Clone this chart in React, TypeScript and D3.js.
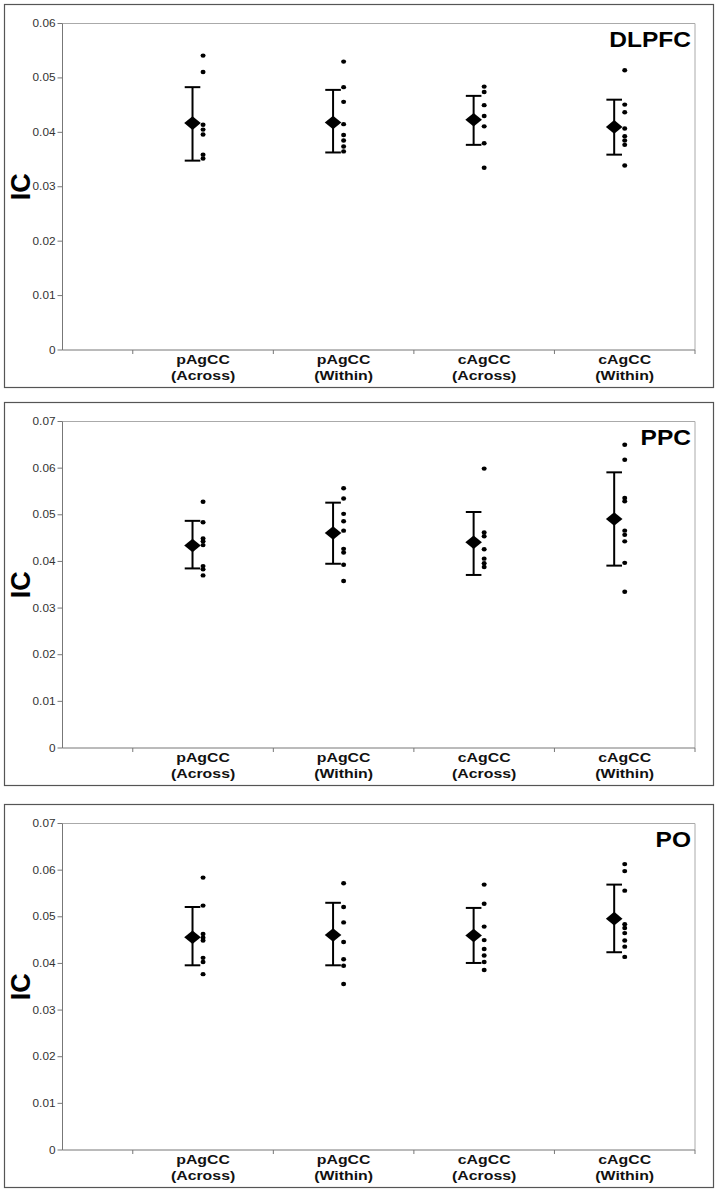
import React from 'react';
import * as d3 from 'd3';

// category labels (two lines each)
const categories = [
  ['pAgCC', '(Across)'],
  ['pAgCC', '(Within)'],
  ['cAgCC', '(Across)'],
  ['cAgCC', '(Within)'],
];

const regions = ['DLPFC', 'PPC', 'PO'];

const dlpfcTicks = [0, 0.01, 0.02, 0.03, 0.04, 0.05, 0.06];
const ppcTicks = [0, 0.01, 0.02, 0.03, 0.04, 0.05, 0.06, 0.07];
const poTicks = [0, 0.01, 0.02, 0.03, 0.04, 0.05, 0.06, 0.07];

const dlpfcMean = [0.0417, 0.0418, 0.0423, 0.041];
const dlpfcHigh = [0.0483, 0.0478, 0.0467, 0.046];
const dlpfcLow = [0.0348, 0.0363, 0.0377, 0.0359];
const dlpfcPoints = [
  [0.0541, 0.0511, 0.0414, 0.0405, 0.0396, 0.0359, 0.0352],
  [0.053, 0.0483, 0.0456, 0.0415, 0.0395, 0.0385, 0.0374, 0.0365],
  [0.0484, 0.0474, 0.045, 0.043, 0.0411, 0.038, 0.0335],
  [0.0514, 0.0451, 0.0437, 0.0407, 0.0393, 0.0385, 0.0377, 0.0339],
];

const ppcMean = [0.0434, 0.0461, 0.0441, 0.0491];
const ppcHigh = [0.0487, 0.0526, 0.0506, 0.0591];
const ppcLow = [0.0385, 0.0395, 0.0371, 0.0391];
const ppcPoints = [
  [0.0528, 0.0484, 0.0449, 0.0443, 0.0435, 0.039, 0.0383, 0.037],
  [0.0557, 0.0535, 0.0502, 0.0486, 0.0466, 0.0427, 0.0419, 0.0393, 0.0358],
  [0.0599, 0.0462, 0.0454, 0.0426, 0.0406, 0.0396, 0.0388],
  [0.065, 0.0618, 0.0536, 0.0529, 0.0466, 0.0457, 0.0443, 0.0397, 0.0335],
];

const poMean = [0.0456, 0.0461, 0.046, 0.0496];
const poHigh = [0.0521, 0.053, 0.0519, 0.0569];
const poLow = [0.0396, 0.0396, 0.0401, 0.0424];
const poPoints = [
  [0.0584, 0.0524, 0.0463, 0.0455, 0.0449, 0.0412, 0.0403, 0.0377],
  [0.0572, 0.0521, 0.0488, 0.0446, 0.0409, 0.0395, 0.0356],
  [0.0569, 0.0528, 0.0479, 0.045, 0.0431, 0.0417, 0.0403, 0.0386],
  [0.0613, 0.0598, 0.0556, 0.0484, 0.0476, 0.0465, 0.0449, 0.0436, 0.0414],
];

const panels = [
  { title: regions[0], ticks: dlpfcTicks, mean: dlpfcMean, high: dlpfcHigh, low: dlpfcLow, points: dlpfcPoints, top: 4 },
  { title: regions[1], ticks: ppcTicks, mean: ppcMean, high: ppcHigh, low: ppcLow, points: ppcPoints, top: 402 },
  { title: regions[2], ticks: poTicks, mean: poMean, high: poHigh, low: poLow, points: poPoints, top: 804 },
];

const font = '"Liberation Sans", Arial, sans-serif';
const W = 719;
const H = 1192;

const Panel = ({ p }) => {
  const boxH = 383;
  const left = 62.5;
  const right = 695;
  const top = p.top + 19.5;
  const bottom = p.top + 346;

  const x = d3.scaleLinear().domain([0, 4.5]).range([left, right]);
  const y = d3.scaleLinear().domain([0, d3.max(p.ticks)]).range([bottom, top]);
  const xTicks = d3.range(0.5, 5, 1);

  const diamond = (cx, cy) =>
    `M${cx - 8.3},${cy} L${cx},${cy - 6.8} L${cx + 8.3},${cy} L${cx},${cy + 6.8} Z`;

  return (
    <g>
      <rect x={4.5} y={p.top + 0.5} width={709} height={boxH} fill="#fff" stroke="#555" strokeWidth={1.2} />
      {/* plot frame */}
      <line x1={left} x2={right} y1={top} y2={top} stroke="#aaa" strokeWidth={1} />
      <line x1={right} x2={right} y1={top} y2={bottom} stroke="#aaa" strokeWidth={1} />
      <line x1={left} x2={left} y1={top} y2={bottom} stroke="#777" strokeWidth={1} />
      <line x1={left} x2={right} y1={bottom} y2={bottom} stroke="#777" strokeWidth={1} />

      {p.ticks.map((t) => (
        <g key={t}>
          <line x1={left - 5} x2={left} y1={y(t)} y2={y(t)} stroke="#777" />
          <text
            transform={`translate(${left - 7},${y(t) + 3.5}) scale(1.18,1)`}
            textAnchor="end"
            fontSize={10}
            fontFamily={font}
            fill="#333"
          >
            {t === 0 ? '0' : t.toFixed(2)}
          </text>
        </g>
      ))}

      {xTicks.map((t) => (
        <line key={t} x1={x(t)} x2={x(t)} y1={bottom} y2={bottom + 4} stroke="#777" />
      ))}

      {categories.map((c, i) => (
        <g key={i}>
          {c.map((line, j) => (
            <text
              key={j}
              transform={`translate(${x(i + 1)},${bottom + 14 + j * 16}) scale(1.22,1)`}
              textAnchor="middle"
              fontSize={13}
              fontWeight="bold"
              fontFamily={font}
              fill="#111"
            >
              {line}
            </text>
          ))}
        </g>
      ))}

      <text
        transform={`translate(${30},${(top + bottom) / 2}) rotate(-90)`}
        textAnchor="middle"
        fontSize={27}
        fontWeight="bold"
        fontFamily={font}
        fill="#000"
      >
        IC
      </text>

      <text
        transform={`translate(${691},${top + 23}) scale(1.14,1)`}
        textAnchor="end"
        fontSize={21.5}
        fontWeight="bold"
        fontFamily={font}
        fill="#000"
      >
        {p.title}
      </text>

      {p.mean.map((m, i) => {
        const cx = x(i + 1 - 0.075);
        return (
          <g key={i}>
            <line x1={cx} x2={cx} y1={y(p.high[i])} y2={y(p.low[i])} stroke="#000" strokeWidth={2} />
            <line x1={cx - 7.8} x2={cx + 7.8} y1={y(p.high[i])} y2={y(p.high[i])} stroke="#000" strokeWidth={2} />
            <line x1={cx - 7.8} x2={cx + 7.8} y1={y(p.low[i])} y2={y(p.low[i])} stroke="#000" strokeWidth={2} />
            <path d={diamond(cx, y(m))} fill="#000" />
          </g>
        );
      })}

      {p.points.map((pts, i) =>
        pts.map((v, j) => (
          <ellipse key={`${i}-${j}`} cx={x(i + 1)} cy={y(v)} rx={2.5} ry={2.2} fill="#000" />
        ))
      )}
    </g>
  );
};

export default function App() {
  return (
    <svg
      width={W}
      height={H}
      style={{ position: 'absolute', left: 0, top: 0, background: '#fff' }}
    >
      <rect width={W} height={H} fill="#fff" />
      {panels.map((p) => (
        <Panel key={p.title} p={p} />
      ))}
    </svg>
  );
}
